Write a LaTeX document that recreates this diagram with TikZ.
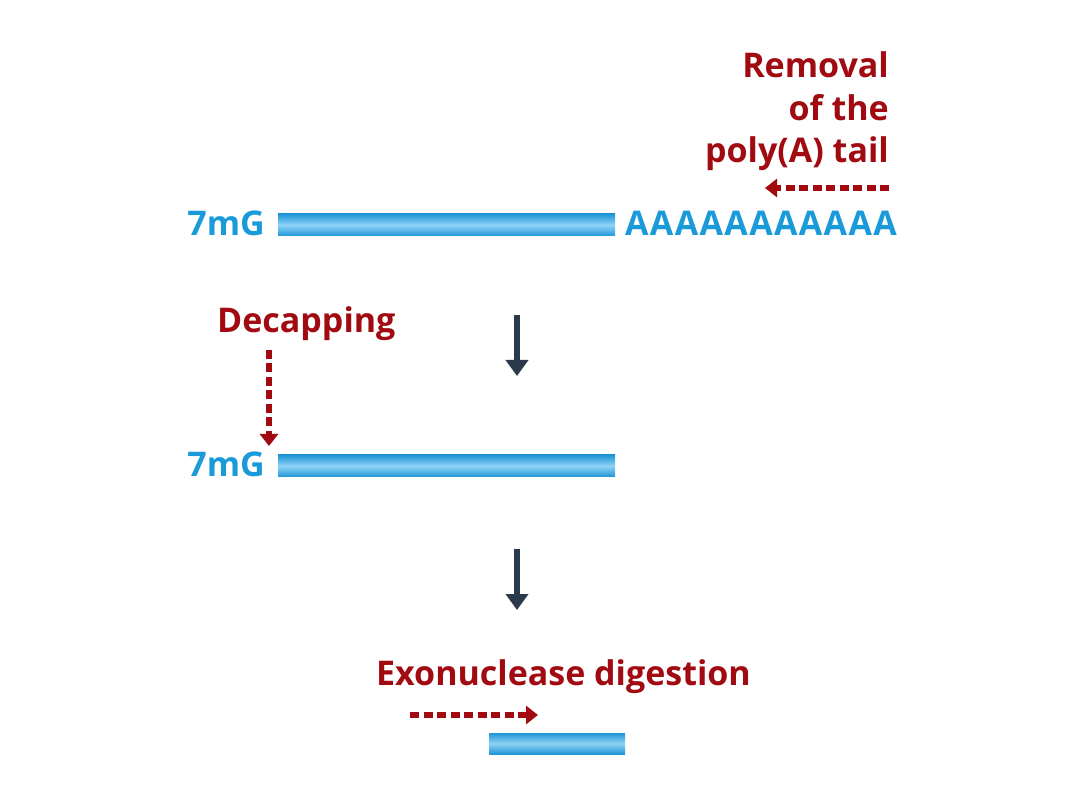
\documentclass[tikz,border=0pt]{standalone}
\usepackage{fontspec}
\setmainfont{Open Sans}
\usetikzlibrary{arrows.meta}
\definecolor{rnablue}{HTML}{1A9AD9}
\definecolor{barlight}{HTML}{8FD3F7}
\definecolor{bardark}{HTML}{1F95D6}
\definecolor{darkred}{HTML}{A00A10}
\definecolor{stepgray}{HTML}{2B3A4A}
\tikzset{
  bluetxt/.style={text=rnablue, font=\bfseries\fontsize{34}{34}\selectfont, inner sep=0pt},
  redtxt/.style={text=darkred, font=\bfseries\fontsize{34}{42.5}\selectfont, inner sep=0pt},
  rnabar/.style={top color=bardark, bottom color=bardark, middle color=barlight, draw=none},
  dasharrow/.style={draw=darkred, line width=6.5pt, dash pattern=on 9pt off 4.5pt, -{Triangle[width=18pt,length=12pt,fill=darkred]}},
  steparrow/.style={draw=stepgray, line width=6.5pt, -{Triangle[width=22pt,length=16pt]}}
}
\begin{document}
\begin{tikzpicture}[x=1pt,y=-1pt]
\useasboundingbox (0,0) rectangle (1080,810);
\fill[white] (0,0) rectangle (1080,810);
% row 1
\node[bluetxt, anchor=base east] (cap1) at (265,236) {7mG};
\shade[rnabar] (278,214) rectangle (615,236);
\node[bluetxt, anchor=base west] (polyA) at (625,236) {\addfontfeature{LetterSpace=4}AAAAAAAAAAA};
\node[redtxt, anchor=base east, align=right] (removal) at (889,163) {Removal\\of the\hspace{8pt}\\poly(A) tail};
\coordinate (r1) at (889,188);
\coordinate (r2) at (765,188);
\draw[dasharrow] (r1) -- (r2);
% step arrow 1
\coordinate (s1a) at (517,315);
\coordinate (s1b) at (517,376);
\draw[steparrow] (s1a) -- (s1b);
% row 2
\node[redtxt, anchor=base west] (decap) at (217,333) {Decapping};
\coordinate (d1) at (269,350);
\coordinate (d2) at (269,446);
\draw[dasharrow] (d1) -- (d2);
\node[bluetxt, anchor=base east] (cap2) at (265,477) {7mG};
\shade[rnabar] (278,455) rectangle (615,477);
% step arrow 2
\coordinate (s2a) at (517,549);
\coordinate (s2b) at (517,610);
\draw[steparrow] (s2a) -- (s2b);
% row 3
\node[redtxt, anchor=base west] (exo) at (376,685) {Exonuclease digestion};
\coordinate (e1) at (410,715);
\coordinate (e2) at (538,715);
\draw[dasharrow] (e1) -- (e2);
\shade[rnabar] (489,733) rectangle (625,754);
\end{tikzpicture}
\end{document}
